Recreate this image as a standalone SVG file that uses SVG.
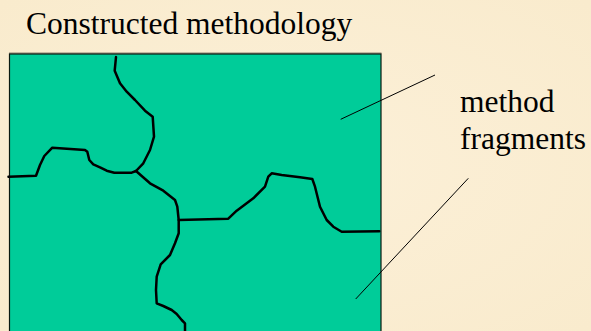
<svg xmlns="http://www.w3.org/2000/svg" width="591" height="331" viewBox="0 0 591 331">
  <defs>
    <radialGradient id="bg" cx="50%" cy="50%" r="70%">
      <stop offset="0" stop-color="#fcf0d8"/>
      <stop offset="1" stop-color="#f9ebcd"/>
    </radialGradient>
  </defs>
  <style>
    .lbl { font-family: 'Liberation Serif', 'Times New Roman', Tinos, 'Noto Serif', 'Nimbus Roman', 'Nimbus Roman No9 L', FreeSerif, Times, 'DejaVu Serif', serif; font-size: 31.5px; fill: #000; }
    .crack { fill: none; stroke: #000; stroke-width: 2.5; stroke-linejoin: round; stroke-linecap: round; }
    .leader { fill: none; stroke: #000; stroke-width: 1; }
  </style>
  <rect x="0" y="0" width="591" height="331" fill="url(#bg)"/>

  <g id="title">
    <text class="lbl" x="26" y="34">Constructed methodology</text>
  </g>

  <g id="methodology">
    <line x1="9" y1="53.2" x2="381.5" y2="53.2" stroke="#8c8270" stroke-width="1.2"/>
    <rect x="9.5" y="54" width="371.5" height="290" fill="#00cc99" stroke="#0a1a12" stroke-width="1.2"/>
  </g>

  <g id="fragments">
    <path class="crack" d="M116,57 L114.7,70.7 L120,83.3 L126.7,91.7 L135,100 L145,110.7 L152.7,116.7 L154,136.7 L150,150 L143.3,163.3 L136,171"/>
    <path class="crack" d="M8.5,176.7 L36,175.7 L40,165 L44.3,156 L52.3,147.7 L85,150 L87.3,151.7 L89.3,160 L93.3,164.3 L100,167.3 L106.7,170.7 L114.3,172.7 L131.7,172.7 L136,171"/>
    <path class="crack" d="M136,171 L150,183.3 L163.3,190.7 L175,200 L177.3,206.7 L178.7,220 L178.7,233.3 L175,243.3 L170,255 L160.7,264.3 L156.7,276.7 L156,290 L156.7,303.3 L163.3,306 L171.7,310 L176.7,314 L181.7,320 L185,323.3 L185,331"/>
    <path class="crack" d="M178.7,220 L228.3,218.7 L236.7,210.7 L253.3,198.3 L265,186.7 L268.3,176.7 L271.7,173.3 L281.7,175 L300,177.3 L312.3,179 L315,186.7 L320,206.7 L326.7,220 L333.3,226.7 L341.7,231.7 L379.3,231.3"/>
  </g>

  <g id="label-method-fragments">
    <text class="lbl" x="460" y="112">method</text>
    <text class="lbl" x="460" y="149">fragments</text>
  </g>

  <g id="connectors">
    <line class="leader" x1="435" y1="75" x2="340.7" y2="119.3"/>
    <line class="leader" x1="468.3" y1="178.3" x2="355.7" y2="299"/>
  </g>
</svg>
